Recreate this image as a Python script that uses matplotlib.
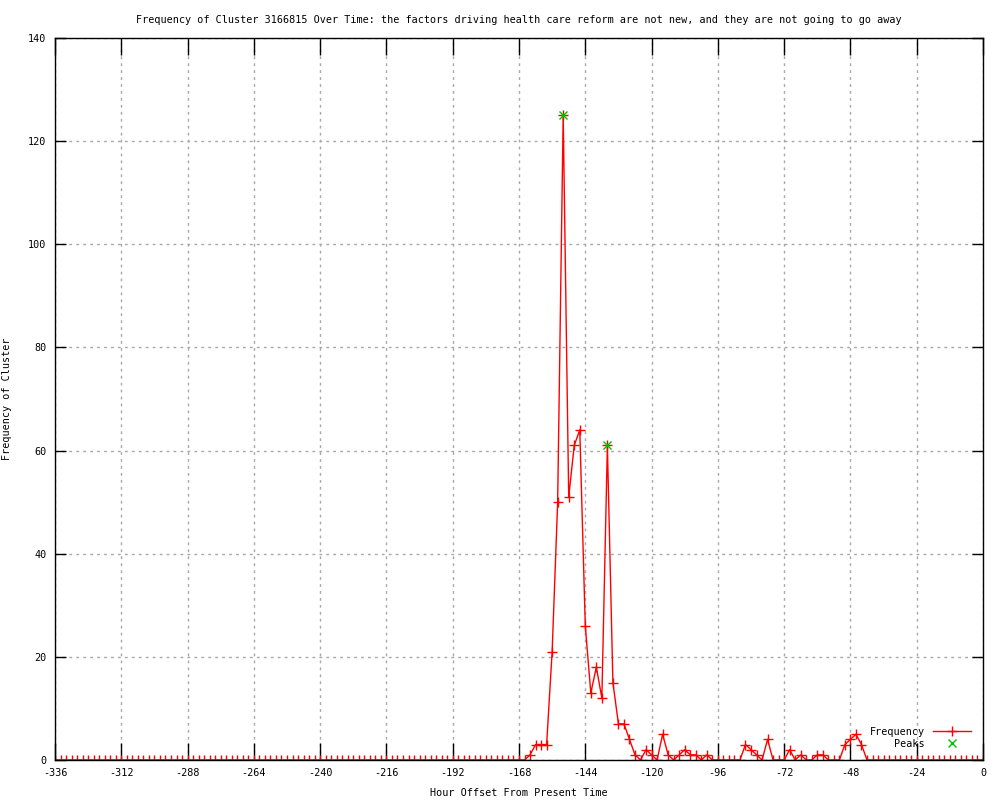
import numpy as np
import matplotlib
matplotlib.use("Agg")
import matplotlib.pyplot as plt

# hourly bins (every 2 hours) from -336 to 0
hours = np.arange(-336, 1, 2)
# counts, -336 .. 0
freq = ([0] * 85 +
        [0, 1, 3, 3, 3, 21, 50, 125, 51, 61, 64, 26, 13, 18, 12, 61,
         15, 7, 7, 4, 1, 0, 2, 1, 0, 5, 1, 0, 1, 2, 1, 1, 0, 1, 0,
         0, 0, 0, 0, 0, 3, 2, 1, 0, 4, 0, 0, 0, 2, 0, 1, 0, 0, 1, 1,
         0, 0, 0, 3, 4, 5, 3, 0] +
        [0] * 21)
peak_hours = [-152, -136]
peak_vals = [125, 61]

xticks = list(range(-336, 1, 24))
yticks = list(range(0, 141, 20))

plt.rcParams['font.family'] = ['DejaVu Sans Mono']
plt.rcParams['font.size'] = 7.3
plt.rcParams['axes.unicode_minus'] = False

fig = plt.figure(figsize=(10, 8), dpi=100)
ax = fig.add_axes([0.055, 0.05, 0.928, 0.9025])

ax.plot(hours, freq, color='red', lw=1, marker='+', ms=7, mew=1,
        label='Frequency')
ax.plot(peak_hours, peak_vals, ls='none', marker='x', color='#00c000',
        ms=6, mew=1, label='Peaks')

ax.set_xlim(-336, 0)
ax.set_ylim(0, 140)
ax.set_xticks(xticks)
ax.set_yticks(yticks)
ax.tick_params(direction='in', top=True, right=True, width=1, pad=6,
               labelsize=7.3)
ax.tick_params(axis='x', length=12)
ax.tick_params(axis='y', length=8)
ax.grid(True, color='#a8a8a8', ls=(0, (2, 3)), lw=1)
for s in ax.spines.values():
    s.set_linewidth(1)

ax.set_title("Frequency of Cluster 3166815 Over Time: the factors driving health care reform are not new, and they are not going to go away",
             fontsize=7.3, pad=11)
ax.set_xlabel("Hour Offset From Present Time", fontsize=7.3, labelpad=7)
ax.set_ylabel("Frequency of Cluster", fontsize=7.3)
ax.yaxis.set_label_coords(-0.046, 0.5)

ax.legend(loc='lower right', bbox_to_anchor=(0.995, 0.006), frameon=False,
          fontsize=7.3, markerfirst=False, handlelength=3.8,
          labelspacing=0.2, borderpad=0.2, handletextpad=0.8)

fig.savefig('out.png', dpi=100)
